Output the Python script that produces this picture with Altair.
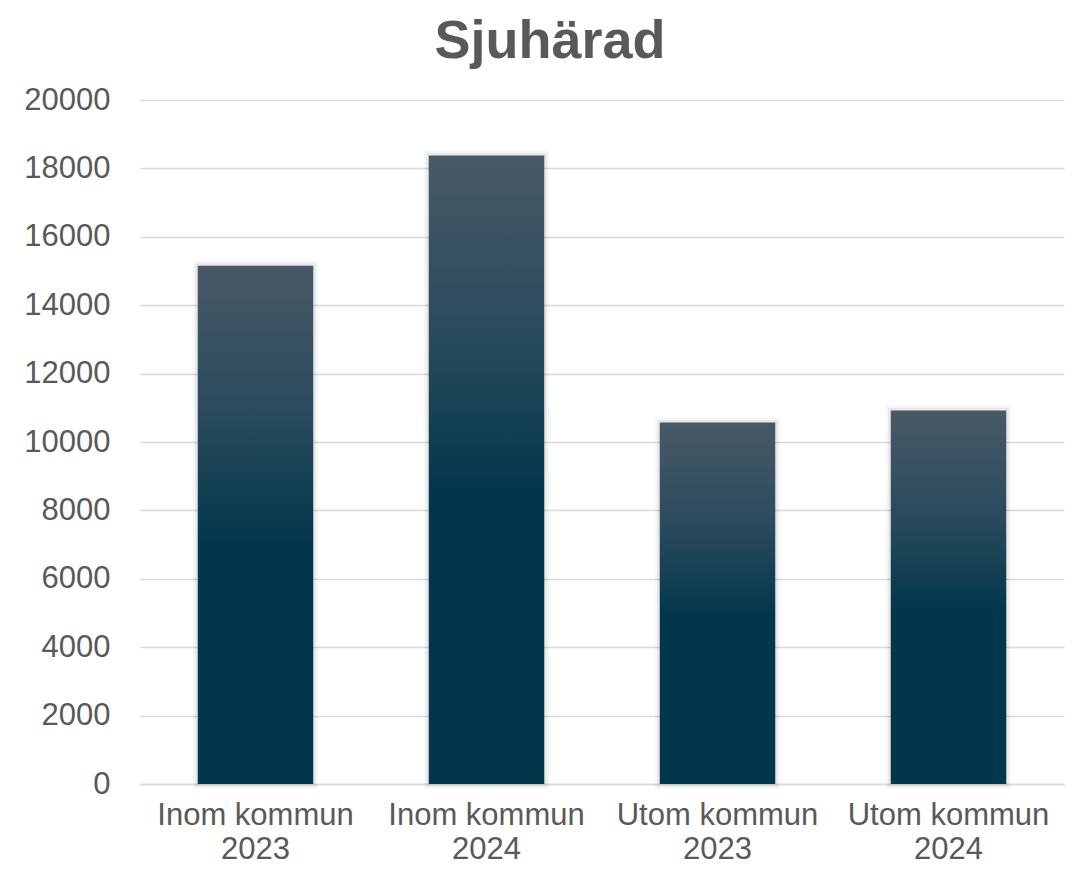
import altair as alt
import pandas as pd

categories = ["Inom kommun\n2023", "Inom kommun\n2024", "Utom kommun\n2023", "Utom kommun\n2024"]
values = [15150, 18380, 10570, 10920]
y_ticks = [0, 2000, 4000, 6000, 8000, 10000, 12000, 14000, 16000, 18000, 20000]
title_text = "Sjuhärad"

df = pd.DataFrame({"cat": categories, "val": values})

FONT = "Liberation Sans"
TEXT_COLOR = "#595959"

gradient = alt.Gradient(
    gradient="linear",
    stops=[
        alt.GradientStop(color="#485967", offset=0),
        alt.GradientStop(color="#2a4b5d", offset=0.28),
        alt.GradientStop(color="#02364b", offset=0.54),
        alt.GradientStop(color="#02364b", offset=1),
    ],
    x1=0, x2=0, y1=0, y2=1,
)

x_enc = alt.X(
    "cat:N",
    sort=categories,
    scale=alt.Scale(paddingInner=0.5, paddingOuter=0.25),
    axis=alt.Axis(
        title=None,
        labelAngle=0,
        labelExpr="split(datum.label, '\\n')",
        labelFontSize=31,
        labelLineHeight=34,
        labelLimit=400,
        labelColor=TEXT_COLOR,
        labelFont=FONT,
        labelPadding=16,
        ticks=False,
        domain=True,
        domainColor="#d9d9d9",
        domainWidth=1.5,
        grid=False,
    ),
)
y_enc = alt.Y(
    "val:Q",
    scale=alt.Scale(domain=[0, 20000], nice=False),
    axis=alt.Axis(
        title=None,
        values=y_ticks,
        format="d",
        labelFontSize=31,
        labelColor=TEXT_COLOR,
        labelFont=FONT,
        labelPadding=30,
        ticks=False,
        domain=False,
        grid=True,
        gridColor="#d9d9d9",
        gridWidth=1.5,
    ),
)

base = alt.Chart(df)

shadow1 = base.mark_bar(fill="transparent", stroke="#000000", strokeWidth=10, strokeOpacity=0.035).encode(x=x_enc, y=y_enc)
shadow2 = base.mark_bar(fill="transparent", stroke="#000000", strokeWidth=5, strokeOpacity=0.06).encode(x=x_enc, y=y_enc)
bars = base.mark_bar(color=gradient).encode(x=x_enc, y=y_enc)

chart = (
    alt.layer(shadow1, shadow2, bars)
    .properties(
        width=924,
        height=684,
        autosize=alt.AutoSizeParams(type="none"),
        padding={"left": 132, "top": 92, "right": 7, "bottom": 80},
        title=alt.TitleParams(
            text=title_text,
            font=FONT,
            fontSize=54,
            fontWeight="bold",
            color=TEXT_COLOR,
            anchor="middle",
            baseline="alphabetic",
            offset=-28,
            dx=-52,
        ),
    )
    .configure_view(stroke=None)
)

chart.save("out.html", embed_options={"renderer": "svg", "actions": False})
